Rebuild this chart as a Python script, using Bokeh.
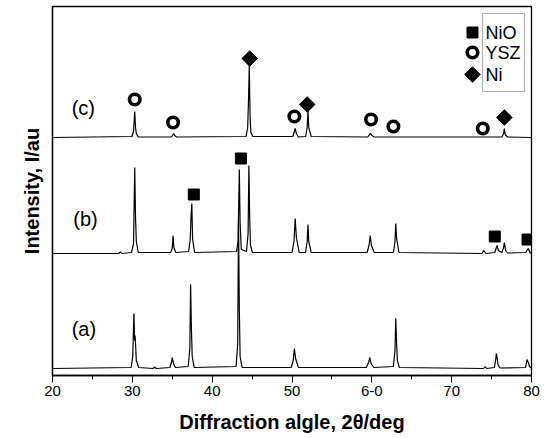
from bokeh.plotting import figure
from bokeh.models import (Range1d, FixedTicker, Label, BoxAnnotation,
                          CustomJSTickFormatter)
from bokeh.embed import file_html
from bokeh.resources import INLINE
from bokeh.core.properties import value
import math

# ---- data ----
# trace (a): x positions (2theta) and intensity above its own baseline
x_a = [20, 29.85, 30.05, 30.2, 30.28, 30.35, 30.5, 30.8, 32.6, 32.8, 33.0,
       34.7, 34.9, 35.0, 35.15, 35.4, 37.0, 37.2, 37.3, 37.4, 37.5, 37.75,
       43.0, 43.2, 43.3, 43.4, 43.5, 43.75, 49.9, 50.15, 50.3, 50.45, 50.8,
       59.3, 59.6, 59.75, 59.9, 60.25, 62.7, 62.9, 63.0, 63.1, 63.2, 63.45,
       74.0, 74.2, 74.4, 75.35, 75.5, 75.6, 75.7, 75.8, 76.05,
       79.25, 79.45, 79.6, 79.75, 80]
y_a = [0, 1, 12, 55, 28, 33, 8, 1, 0, 1.5, 0,
       1, 6, 11, 5, 1, 2, 20, 84, 40, 12, 1,
       2, 25, 150, 60, 12, 1, 1, 8, 20, 10, 1,
       1, 6, 11, 5, 1, 2, 18, 50, 25, 8, 1,
       0, 2, 0, 1, 8, 15, 10, 4, 0.5,
       1, 9, 6, 2, 0.5]

x_b = [20, 28.3, 28.5, 28.7, 29.9, 30.15, 30.3, 30.4, 30.5, 30.75,
       34.8, 35.0, 35.1, 35.2, 35.45, 37.05, 37.25, 37.35, 37.45, 37.55, 37.8,
       43.05, 43.25, 43.4, 43.5, 43.65, 44.3, 44.5, 44.6, 44.7, 44.8, 45.05,
       50.0, 50.25, 50.4, 50.55, 50.9, 51.7, 51.9, 52.0, 52.1, 52.4,
       59.4, 59.65, 59.8, 59.95, 60.3, 62.7, 62.9, 63.0, 63.1, 63.4,
       73.8, 74.0, 74.3, 75.4, 75.6, 75.7, 75.85, 76.3, 76.5, 76.6, 76.75, 77.0,
       79.3, 79.5, 79.6, 79.8, 80]
y_b = [0, 0, 1.5, 0, 1, 10, 86, 36, 12, 1,
       1, 5, 18, 6, 1, 2, 14, 36, 50, 14, 1,
       2, 12, 84, 30, 4, 2, 20, 88, 35, 8, 1,
       1, 12, 35, 16, 1, 1, 12, 29, 12, 1,
       1, 8, 18, 8, 1, 1, 12, 30, 15, 1,
       0, 3, 0, 1, 6, 8, 3, 1, 6, 11, 3, 0.5,
       1, 4, 5, 1, 0]

x_c = [20, 29.95, 30.15, 30.3, 30.4, 30.5, 30.75, 34.9, 35.1, 35.2, 35.3, 35.55,
       44.25, 44.45, 44.55, 44.65, 44.75, 44.85, 45.1,
       50.1, 50.3, 50.4, 50.55, 50.8, 51.7, 51.9, 52.0, 52.1, 52.4,
       59.5, 59.7, 59.85, 60.0, 60.3, 76.3, 76.5, 76.6, 76.7, 77.0, 80]
y_c = [0, 1, 6, 26, 10, 4, 0.5, 0.5, 3, 4, 2, 0.5,
       1, 10, 37, 72, 20, 5, 1,
       1, 6, 9, 4, 0.5, 1, 10, 27, 10, 1,
       0.5, 3, 4, 2, 0.5, 0.5, 4, 9, 3, 0.5, 0]

offsets = {"a": 0, "b": 115, "c": 231}
trace_names = ["(a)", "(b)", "(c)"]
trace_label_x = [22.4, 22.6, 22.4]
trace_label_y = [40, 150, 261]

# phase markers (peak identification)
nio_x = [37.7, 43.6, 75.4, 79.5]
nio_y = [174, 210, 132, 129]
ysz_x = [30.3, 35.1, 50.3, 59.9, 62.7, 73.9]
ysz_y = [269, 246, 252, 249, 242, 240]
ni_x = [44.7, 51.9, 76.6]
ni_y = [310, 264, 251]

legend_labels = ["NiO", "YSZ", "Ni"]

x_ticks = [20, 30, 40, 50, 60, 70, 80]
x_tick_labels = {20: "20", 30: "30", 40: "40", 50: "50", 60: "6-0", 70: "70", 80: "80"}
x_minor = [25, 35, 45, 55, 65, 75]

# ---- figure ----
p = figure(width=548, height=438, output_backend="svg", toolbar_location=None,
           x_range=Range1d(20, 80), y_range=Range1d(-7, 362),
           min_border_left=52, min_border_right=17, min_border_top=6, min_border_bottom=63)
p.grid.visible = False
p.outline_line_color = "black"
p.outline_line_width = 1.3
p.background_fill_color = "white"
p.border_fill_color = "white"

FONT = "Liberation Sans"

for xs, ys, key in [(x_a, y_a, "a"), (x_b, y_b, "b"), (x_c, y_c, "c")]:
    p.line(xs, [v + offsets[key] for v in ys], line_color="black", line_width=1.2)

p.text(x=trace_label_x, y=trace_label_y, text=trace_names, text_font=value(FONT),
       text_font_size="20px", text_baseline="middle", text_align="left", text_color="black")

NIO_STYLE = dict(marker="square", size=11, fill_color="black", line_color="black")
YSZ_STYLE = dict(marker="circle", size=10.5, fill_color="white", line_color="black", line_width=3.6)
NI_STYLE = dict(marker="square", angle=math.pi / 4, size=11, fill_color="black", line_color="black")

p.scatter(nio_x, nio_y, **NIO_STYLE)
p.scatter(ysz_x, ysz_y, **YSZ_STYLE)
p.scatter(ni_x, ni_y, **NI_STYLE)

# ---- legend: markers left of a framed box holding the labels ----
# frame is 479 px wide over 60 units, 1 y-unit = 1 px
def sx(px):  # screen px (from canvas left) -> data x
    return 20 + (px - 52) * 60.0 / 479.0

def sy(py):  # screen px (from canvas top) -> data y
    return 368 - py

legend_rows_py = [32, 52, 74]
p.scatter([sx(472)], [sy(legend_rows_py[0])], **NIO_STYLE)
p.scatter([sx(472)], [sy(legend_rows_py[1])], **YSZ_STYLE)
p.scatter([sx(472)], [sy(legend_rows_py[2])], **NI_STYLE)
for lab, py in zip(legend_labels, legend_rows_py):
    p.add_layout(Label(x=485 - 52, y=375 - py, x_units="screen", y_units="screen",
                       text=lab, text_font=FONT, text_font_size="18px",
                       text_baseline="middle", text_align="left", text_color="black"))
p.add_layout(BoxAnnotation(left=482 - 52, right=524 - 52, top=375 - 13, bottom=375 - 91,
                           left_units="screen", right_units="screen",
                           top_units="screen", bottom_units="screen",
                           fill_alpha=0, line_color="black", line_width=1.2))

# x axis
xa = p.xaxis[0]
xa.ticker = FixedTicker(ticks=x_ticks, minor_ticks=x_minor)
xa.major_label_overrides = x_tick_labels
xa.major_tick_out = 7
xa.major_tick_in = 0
xa.minor_tick_out = 4
xa.minor_tick_in = 0
xa.axis_line_width = 1.3
xa.major_label_standoff = 3
xa.major_label_text_font = FONT
xa.major_label_text_font_size = "15px"
xa.major_label_text_color = "black"
xa.axis_label = "Diffraction algle, 2θ/deg"
xa.axis_label_text_font = FONT
xa.axis_label_text_font_style = "bold"
xa.axis_label_text_font_size = "20px"
xa.axis_label_standoff = 12
xa.axis_label_text_color = "black"

# y axis
ya = p.yaxis[0]
ya.ticker = FixedTicker(ticks=[offsets["a"], offsets["b"], offsets["c"]], minor_ticks=[])
ya.formatter = CustomJSTickFormatter(code="return ''")
ya.major_tick_in = 5
ya.major_tick_out = 0
ya.major_label_standoff = 0
ya.axis_line_width = 1.3
ya.axis_label = "Intensity, I/au"
ya.axis_label_text_font = FONT
ya.axis_label_text_font_style = "bold"
ya.axis_label_text_font_size = "20px"
ya.axis_label_standoff = 10
ya.axis_label_text_color = "black"

open("out.html", "w").write(file_html(p, INLINE))
